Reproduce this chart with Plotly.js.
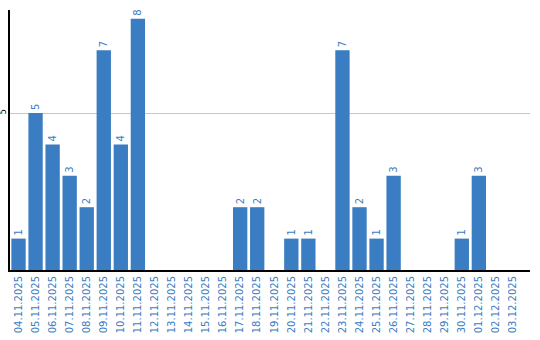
<!DOCTYPE html>
<html><head><meta charset="utf-8">
<script src="https://cdn.plot.ly/plotly-3.0.1.min.js"></script>
<style>body{margin:0;padding:0;background:#fff}#chart{width:540px;height:340px}</style>
</head><body><div id="chart"></div>
<script>
const dates = ["04.11.2025","05.11.2025","06.11.2025","07.11.2025","08.11.2025","09.11.2025","10.11.2025","11.11.2025","12.11.2025","13.11.2025","14.11.2025","15.11.2025","16.11.2025","17.11.2025","18.11.2025","19.11.2025","20.11.2025","21.11.2025","22.11.2025","23.11.2025","24.11.2025","25.11.2025","26.11.2025","27.11.2025","28.11.2025","29.11.2025","30.11.2025","01.12.2025","02.12.2025","03.12.2025"];
const counts = [1,5,4,3,2,7,4,8,0,0,0,0,0,2,2,0,1,1,0,7,2,1,3,0,0,0,1,3,0,0];
const labels = counts.map(v => v > 0 ? String(v) : "");
const blue = "#3a7dc2";
Plotly.newPlot("chart", [{
  type: "bar", x: dates, y: counts, text: labels, textposition: "outside",
  textangle: -90, cliponaxis: false,
  textfont: {family: "DejaVu Sans", size: 10, color: blue},
  marker: {color: blue}, hoverinfo: "none"
}], {
  width: 540, height: 340,
  margin: {l: 10, r: 10, t: 10, b: 70},
  paper_bgcolor: "#fff", plot_bgcolor: "#fff",
  bargap: 0.16, showlegend: false,
  font: {family: "DejaVu Sans", size: 10},
  xaxis: {type: "category", range: [-0.5, 30.0], tickangle: -90,
          tickfont: {family: "DejaVu Sans", size: 10, color: blue},
          showline: true, linecolor: "#000", linewidth: 2, ticks: "", showgrid: false},
  yaxis: {range: [0, 8.28], tickvals: [5], ticktext: ["5"], tickangle: -90,
          tickfont: {family: "DejaVu Sans", size: 8, color: "#000"}, ticklabelstandoff: -1,
          showline: true, linecolor: "#000", linewidth: 2, ticks: "",
          showgrid: true, gridcolor: "#c8c8c8", gridwidth: 1, zeroline: false}
}, {staticPlot: true});
</script></body></html>
